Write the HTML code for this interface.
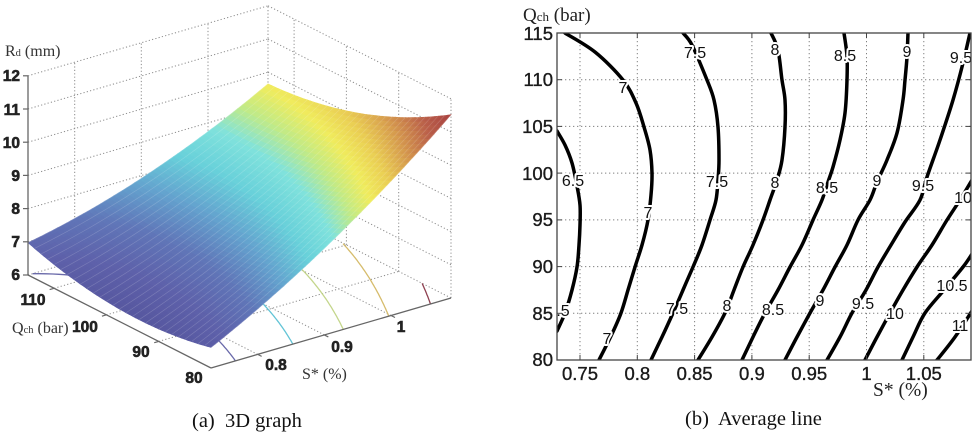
<!DOCTYPE html>
<html><head><meta charset="utf-8">
<style>
html,body{margin:0;padding:0;background:#fff;}
svg{display:block;}
.t{font-family:"Liberation Sans",Arial,sans-serif;}
.s{font-family:"Liberation Serif","Times New Roman",serif;}
</style></head><body>
<svg id="svg" width="980" height="439" viewBox="0 0 980 439" xmlns="http://www.w3.org/2000/svg">
<rect x="0" y="0" width="980" height="439" fill="#fff"/>
<defs><clipPath id="box"><rect x="557" y="33" width="414" height="327"/></clipPath></defs>

<!-- ============ LEFT 3D PLOT ============ -->
<g id="gGrid"></g>
<g id="gFloor"></g>
<g id="gSurf"></g>
<g id="gAx"></g>

<g class="t" font-size="15.5" style="font-weight:700" fill="#222" stroke="#222" stroke-width="0.6" text-anchor="end">
<text x="20" y="81">12</text>
<text x="20" y="115">11</text>
<text x="20" y="148">10</text>
<text x="20" y="181">9</text>
<text x="20" y="214">8</text>
<text x="20" y="247">7</text>
<text x="20" y="280">6</text>
</g>
<g class="t" font-size="15.5" style="font-weight:700" fill="#222" stroke="#222" stroke-width="0.6" text-anchor="middle">
<text x="33" y="305">110</text>
<text x="85" y="332">100</text>
<text x="141" y="357">90</text>
<text x="194" y="383">80</text>
<text x="276" y="370">0.8</text>
<text x="342" y="352">0.9</text>
<text x="401" y="332">1</text>
</g>
<text class="s" x="5" y="56" font-size="16" fill="#333">R<tspan font-size="10.5">d</tspan> (mm)</text>
<text class="s" x="12" y="333" font-size="16" fill="#333">Q<tspan font-size="10.5">ch</tspan> (bar)</text>
<text class="s" x="302" y="379" font-size="16" fill="#333">S* (%)</text>
<text class="s" x="192" y="427" font-size="20.5" fill="#111" xml:space="preserve">(a)  3D graph</text>

<!-- ============ RIGHT CONTOUR PLOT ============ -->
<g stroke="#808080" stroke-width="1" stroke-dasharray="1.3 2.7" fill="none">
<line x1="580" y1="33" x2="580" y2="360"/>
<line x1="637.3" y1="33" x2="637.3" y2="360"/>
<line x1="694.6" y1="33" x2="694.6" y2="360"/>
<line x1="751.9" y1="33" x2="751.9" y2="360"/>
<line x1="809.2" y1="33" x2="809.2" y2="360"/>
<line x1="866.5" y1="33" x2="866.5" y2="360"/>
<line x1="923.8" y1="33" x2="923.8" y2="360"/>
<line x1="557" y1="79.7" x2="971" y2="79.7"/>
<line x1="557" y1="126.4" x2="971" y2="126.4"/>
<line x1="557" y1="173.1" x2="971" y2="173.1"/>
<line x1="557" y1="219.9" x2="971" y2="219.9"/>
<line x1="557" y1="266.6" x2="971" y2="266.6"/>
<line x1="557" y1="313.3" x2="971" y2="313.3"/>
</g>
<g id="gCont" clip-path="url(#box)"></g>
<g id="gLab" class="t" font-size="16" fill="#111" text-anchor="middle"></g>
<rect x="557" y="33" width="414" height="327" fill="none" stroke="#444" stroke-width="1.3"/>
<g id="gTick" stroke="#444" stroke-width="1"></g>

<g class="t" font-size="18.5" fill="#1a1a1a" stroke="#1a1a1a" stroke-width="0.35" text-anchor="end">
<text x="553" y="40">115</text>
<text x="553" y="86">110</text>
<text x="553" y="133">105</text>
<text x="553" y="180">100</text>
<text x="553" y="226">95</text>
<text x="553" y="273">90</text>
<text x="553" y="320">85</text>
<text x="553" y="366">80</text>
</g>
<g class="t" font-size="18.5" fill="#1a1a1a" stroke="#1a1a1a" stroke-width="0.35" text-anchor="middle">
<text x="580" y="380">0.75</text>
<text x="637.3" y="380">0.8</text>
<text x="694.6" y="380">0.85</text>
<text x="751.9" y="380">0.9</text>
<text x="809.2" y="380">0.95</text>
<text x="866.5" y="380">1</text>
<text x="923.8" y="380">1.05</text>
</g>
<text class="s" x="523" y="21" font-size="19" fill="#222">Q<tspan font-size="13">ch</tspan> (bar)</text>
<text class="s" x="873" y="396" font-size="19.5" fill="#222">S* (%)</text>
<text class="s" x="685" y="425" font-size="20.5" fill="#111" xml:space="preserve">(b)  Average line</text>
</svg>
<script>
(function(){
var NS="http://www.w3.org/2000/svg";
function el(tag,attrs,parent){var e=document.createElementNS(NS,tag);for(var k in attrs)e.setAttribute(k,attrs[k]);parent.appendChild(e);return e;}
function R(S,Q){var ds=S-0.92,dq=Q-100;return 8+10.28*ds+10*ds*ds+0.00138*dq*dq-0.1766*ds*dq-0.01656*dq;}
function P(S,Q,z){var a=(S-0.73)/0.36,b=(115-Q)/35;return [28+a*240+b*183,275-a*70+b*93-(z-6)*33.2];}
var gGrid=document.getElementById('gGrid'),gFloor=document.getElementById('gFloor'),gSurf=document.getElementById('gSurf'),gAx=document.getElementById('gAx');
function line3(p,q,g,st){var A=P(p[0],p[1],p[2]),B=P(q[0],q[1],q[2]);
 var at={x1:A[0].toFixed(1),y1:A[1].toFixed(1),x2:B[0].toFixed(1),y2:B[1].toFixed(1)};for(var k in st)at[k]=st[k];el('line',at,g);}
var dot={stroke:'#8c8c8c','stroke-width':1,'stroke-dasharray':'1.2 2.2'};
var z,i,j;
for(z=6;z<=12;z++){line3([0.73,115,z],[1.09,115,z],gGrid,dot);line3([1.09,115,z],[1.09,80,z],gGrid,dot);}
[0.8,0.9,1.0,1.09].forEach(function(S){line3([S,115,6],[S,115,12],gGrid,dot);});
[110,100,90,80].forEach(function(Q){line3([1.09,Q,6],[1.09,Q,12],gGrid,dot);});
[0.8,0.9,1.0].forEach(function(S){line3([S,115,6],[S,80,6],gGrid,dot);});
[110,100,90].forEach(function(Q){line3([0.73,Q,6],[1.09,Q,6],gGrid,dot);});
var lv=[[7,'#6a6aaa'],[8,'#62c4d6'],[9,'#c4d68c'],[10,'#d6bc6c'],[11,'#8e4050']];
lv.forEach(function(L){var pts=[];
 for(var Q=80;Q<=115.001;Q+=0.5){var dq=Q-100,B=10.28-0.1766*dq,C=8+0.00138*dq*dq-0.01656*dq-L[0],D=B*B-40*C;if(D<0)continue;
  var S=0.92+(-B+Math.sqrt(D))/20;if(S<0.73||S>1.09)continue;var p=P(S,Q,6);pts.push(p[0].toFixed(1)+','+p[1].toFixed(1));}
 if(pts.length>1)el('polyline',{points:pts.join(' '),fill:'none',stroke:L[1],'stroke-width':1.3},gFloor);});
var stops=[[6.3,[86,86,158]],[6.8,[94,97,170]],[7.3,[96,118,184]],[7.8,[100,162,206]],[8.3,[104,208,218]],[8.8,[128,226,220]],[9.2,[192,234,136]],[9.6,[240,236,94]],[10.0,[234,206,84]],[10.5,[212,150,78]],[11.0,[186,96,74]],[11.6,[166,62,64]]];
function col(v){if(v<=stops[0][0])return 'rgb('+stops[0][1].join(',')+')';
 for(var k=1;k<stops.length;k++){if(v<=stops[k][0]){var t=(v-stops[k-1][0])/(stops[k][0]-stops[k-1][0]),a=stops[k-1][1],b=stops[k][1];
  return 'rgb('+Math.round(a[0]+(b[0]-a[0])*t)+','+Math.round(a[1]+(b[1]-a[1])*t)+','+Math.round(a[2]+(b[2]-a[2])*t)+')';}}
 return 'rgb('+stops[stops.length-1][1].join(',')+')';}
var N=56,quads=[];
for(i=0;i<N;i++)for(j=0;j<N;j++){
 var S0=0.73+0.36*i/N,S1=0.73+0.36*(i+1)/N,Q0=80+35*j/N,Q1=80+35*(j+1)/N;
 var c=[[S0,Q0],[S1,Q0],[S1,Q1],[S0,Q1]],pts=[],zs=0;
 for(var k=0;k<4;k++){var zz=R(c[k][0],c[k][1]);zs+=zz;var p=P(c[k][0],c[k][1],zz);pts.push(p[0].toFixed(1)+','+p[1].toFixed(1));}
 var Sc=(S0+S1)/2,Qc=(Q0+Q1)/2;
 quads.push({d:(Sc-0.73)/0.36+(Qc-80)/35,p:pts.join(' '),z:zs/4,j:j});}
quads.sort(function(a,b){return b.d-a.d;});
quads.forEach(function(q){var cl=col(q.z);el('polygon',{points:q.p,fill:cl,stroke:cl,'stroke-width':0.6},gSurf);});
for(j=0;j<=35;j+=1.25){var pts2=[];for(i=0;i<=30;i++){var S=0.73+0.36*i/30,p=P(S,80+j,R(S,80+j));pts2.push(p[0].toFixed(1)+','+p[1].toFixed(1));}
 el('polyline',{points:pts2.join(' '),fill:'none',stroke:'rgba(255,255,255,0.18)','stroke-width':0.7},gSurf);}
var ax={stroke:'#666','stroke-width':1.3};
el('line',{x1:28,y1:75.8,x2:28,y2:275,stroke:'#666','stroke-width':1.3},gAx);
for(z=6;z<=12;z++){var y=275-(z-6)*33.2;el('line',{x1:23,y1:y,x2:28,y2:y,stroke:'#666','stroke-width':1.2},gAx);}
line3([0.73,115,6],[0.73,80,6],gAx,ax);
line3([0.73,80,6],[1.09,80,6],gAx,ax);
[110,100,90].forEach(function(Q){var p=P(0.73,Q,6);el('line',{x1:p[0],y1:p[1],x2:p[0]-4.5,y2:p[1]+1.3,stroke:'#666','stroke-width':1.2},gAx);});
[0.8,0.9,1.0].forEach(function(S){var p=P(S,80,6);el('line',{x1:p[0],y1:p[1],x2:p[0]+4,y2:p[1]+2,stroke:'#666','stroke-width':1.2},gAx);});

var gC=document.getElementById('gCont');
var lines=[
[[557,131],[565,145],[572,163],[577,186],[580,205],[580,225],[579,245],[577,267],[572,290],[565,313],[557,331]],
[[565,33],[595,52],[623,80],[636,103],[644,127],[650,150],[652,173],[651,195],[648,220],[642,245],[635,267],[628,290],[621,313],[611,336],[599,360]],
[[683,33],[692,45],[707,80],[714,100],[718,127],[719,160],[718,180],[716,200],[710,220],[702,245],[693,267],[683,290],[673,313],[662,337],[651,360]],
[[771,33],[778,50],[782,80],[785,100],[785,127],[782,160],[777,180],[770,200],[763,220],[753,245],[743,267],[734,290],[725,313],[712,337],[698,360]],
[[844,33],[847,56],[847,80],[845,113],[840,140],[833,167],[828,182],[822,200],[813,220],[802,245],[790,267],[778,290],[765,313],[753,337],[742,360]],
[[908,33],[907,57],[905,80],[903,100],[897,133],[887,160],[877,182],[870,200],[858,220],[847,245],[835,267],[823,290],[810,313],[797,337],[785,360]],
[[970,33],[963,63],[953,100],[940,140],[927,177],[920,200],[905,222],[891,245],[878,267],[866,290],[852,313],[840,337],[827,360]],
[[972,180],[960,200],[947,220],[932,245],[917,267],[903,290],[890,313],[877,337],[865,360]],
[[972,254],[963,267],[944,290],[925,313],[913,337],[902,360]],
[[972,311],[955,337],[937,360]]];
lines.forEach(function(L){var d='M'+L[0][0]+','+L[0][1];
 for(var k=0;k<L.length-1;k++){var p0=L[Math.max(k-1,0)],p1=L[k],p2=L[k+1],p3=L[Math.min(k+2,L.length-1)];
  var c1x=p1[0]+(p2[0]-p0[0])/6,c1y=p1[1]+(p2[1]-p0[1])/6,c2x=p2[0]-(p3[0]-p1[0])/6,c2y=p2[1]-(p3[1]-p1[1])/6;
  d+=' C'+c1x.toFixed(1)+','+c1y.toFixed(1)+' '+c2x.toFixed(1)+','+c2y.toFixed(1)+' '+p2[0]+','+p2[1];}
 el('path',{d:d,fill:'none',stroke:'#000','stroke-width':3.5,'stroke-linejoin':'round','stroke-linecap':'round'},gC);});
var gL=document.getElementById('gLab');
var labs=[['7.5',695,52],['7',623,87],['7',648,212],['7',607,338],['8',775,49],['8',775,182],['8',727,305],['8.5',845,55],['8.5',827,187],['8.5',773,309],['9',907,51],['9',877,180],['9',820,300],['9.5',961,57],['9.5',923,185],['9.5',863,303],['10',963,197],['10',895,313],['10.5',952,285],['11',960,325],['6.5',573,180],['.5',563,310],['7.5',717,181],['7.5',677,308]];
labs.forEach(function(l){var t=el('text',{x:l[1],y:l[2]+6,stroke:'#fff','stroke-width':4,'paint-order':'stroke','stroke-linejoin':'round'},gL);t.textContent=l[0];});
var gT=document.getElementById('gTick');
[580,637.3,694.6,751.9,809.2,866.5,923.8].forEach(function(x){el('line',{x1:x,y1:360,x2:x,y2:355},gT);el('line',{x1:x,y1:33,x2:x,y2:38},gT);});
[33,79.7,126.4,173.1,219.9,266.6,313.3,360].forEach(function(y){el('line',{x1:557,y1:y,x2:562,y2:y},gT);el('line',{x1:971,y1:y,x2:966,y2:y},gT);});
})();
</script>
</body></html>
